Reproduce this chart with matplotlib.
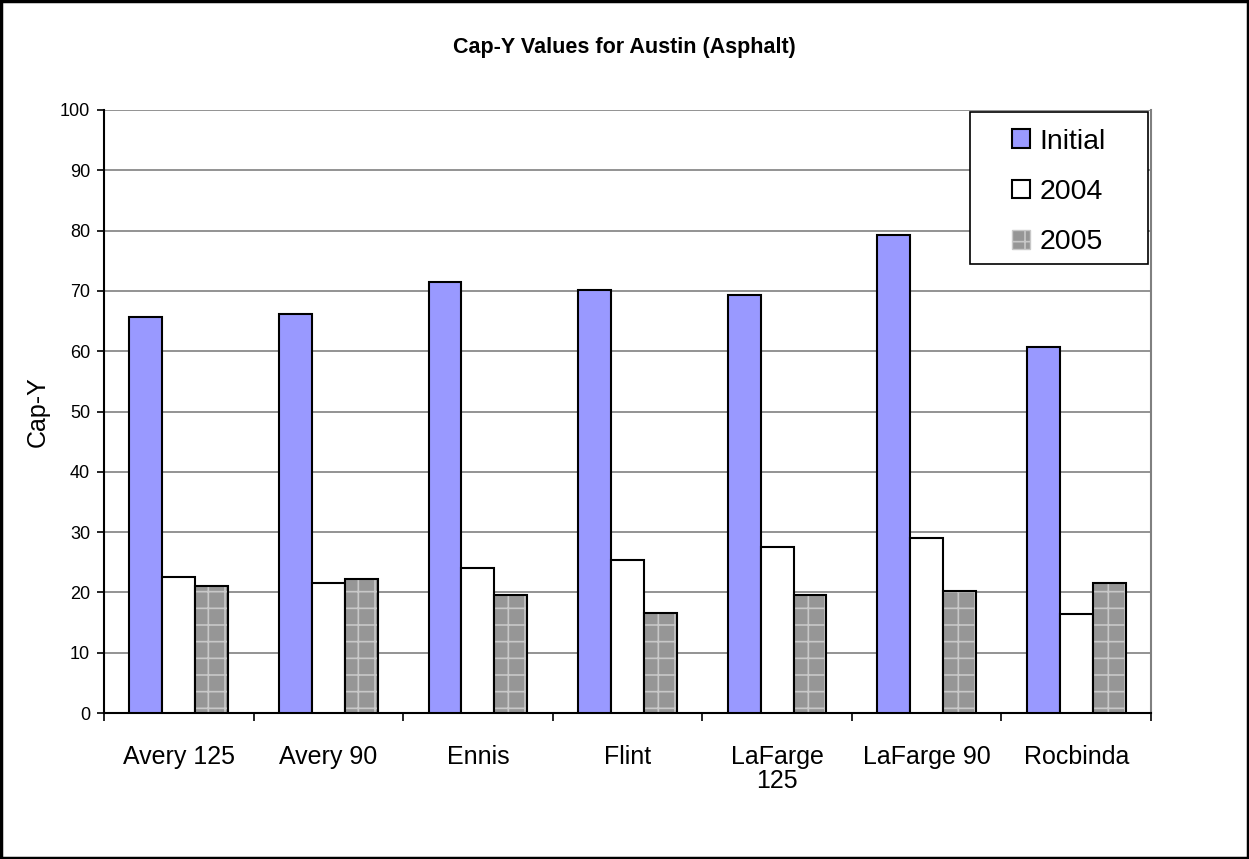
import matplotlib
matplotlib.use('Agg')
from matplotlib import pyplot as plt
from matplotlib.patches import Rectangle
import numpy as np

categories = ['Avery 125', 'Avery 90', 'Ennis', 'Flint', 'LaFarge\n125', 'LaFarge 90', 'Rocbinda']
initial = [65.7, 66.2, 71.5, 70.1, 69.3, 79.3, 60.7]
y2004 = [22.6, 21.6, 24.0, 25.3, 27.5, 29.1, 16.4]
y2005 = [21.0, 22.2, 19.6, 16.6, 19.5, 20.3, 21.6]

plt.rcParams['font.family'] = ['Liberation Sans', 'DejaVu Sans']

W, H = 1249, 859
fig = plt.figure(figsize=(W / 100, H / 100), dpi=100)
ax = fig.add_axes([104 / W, 146 / H, 1047 / W, 603 / H])

x = np.arange(len(categories))
w = 0.22
ax.bar(x - w, initial, w, color='#9999ff', edgecolor='black', linewidth=1.5,
       label='Initial', zorder=3)
ax.bar(x, y2004, w, color='white', edgecolor='black', linewidth=1.5,
       label='2004', zorder=3)
# hatched fill with light grid, then a black outline on top
plt.rcParams['hatch.linewidth'] = 1.2
ax.bar(x + w, y2005, w, color='#969696', edgecolor='#c8c8c8', hatch='+',
       linewidth=0, zorder=3)
ax.bar(x + w, y2005, w, color='none', edgecolor='black', linewidth=1.5, zorder=4)
h2005 = Rectangle((0, 0), 1, 1, facecolor='#969696', edgecolor='#c8c8c8',
                  hatch='+', linewidth=1)

ax.set_xlim(-0.5, len(categories) - 0.5)
ax.set_ylim(0, 100)
ax.set_yticks(range(0, 101, 10))
ax.yaxis.grid(True, color='#808080', linewidth=1.2, zorder=0)
ax.set_axisbelow(True)

ax.set_xticks(x)
ax.set_xticklabels(categories, fontsize=18, linespacing=1.0)
ax.tick_params(axis='x', length=0, pad=23)
ax.set_xticks(np.arange(len(categories) + 1) - 0.5, minor=True)
ax.tick_params(axis='x', which='minor', length=6, width=1.2, color='black')
ax.tick_params(axis='y', labelsize=13, length=5, width=1.2, pad=5)

for s in ['left', 'bottom']:
    ax.spines[s].set_color('black')
    ax.spines[s].set_linewidth(1.5)
ax.spines['top'].set_visible(False)
ax.spines['right'].set_color('#808080')
ax.spines['right'].set_linewidth(1.5)

ax.set_ylabel('Cap-Y', fontsize=18, labelpad=7)
fig.text(0.5, 1 - 47 / H, 'Cap-Y Values for Austin (Asphalt)', ha='center',
         va='center', fontsize=15.5, fontweight='bold')

# legend box drawn separately (wide side padding like the original)
lx0, ly0, lx1, ly1 = 970, 112, 1148, 264
fig.patches.append(Rectangle((lx0 / W, 1 - ly1 / H), (lx1 - lx0) / W, (ly1 - ly0) / H,
                             transform=fig.transFigure, facecolor='white',
                             edgecolor='black', linewidth=1.2, zorder=5))
handles, labels = ax.get_legend_handles_labels()
leg = fig.legend(handles + [h2005], labels + ['2005'], loc='center',
                 bbox_to_anchor=((lx0 + lx1) / 2 / W, 1 - ((ly0 + ly1) / 2 + 4) / H),
                 bbox_transform=fig.transFigure, fontsize=20.5, frameon=False,
                 handlelength=0.63, handleheight=0.63, handletextpad=0.35,
                 labelspacing=0.85, borderpad=0)
leg.set_zorder(6)

fig.patches.append(Rectangle((0.001, 0.001), 0.998, 0.998, transform=fig.transFigure,
                             fill=False, edgecolor='black', linewidth=2.5))

fig.savefig('out.png', dpi=100)
